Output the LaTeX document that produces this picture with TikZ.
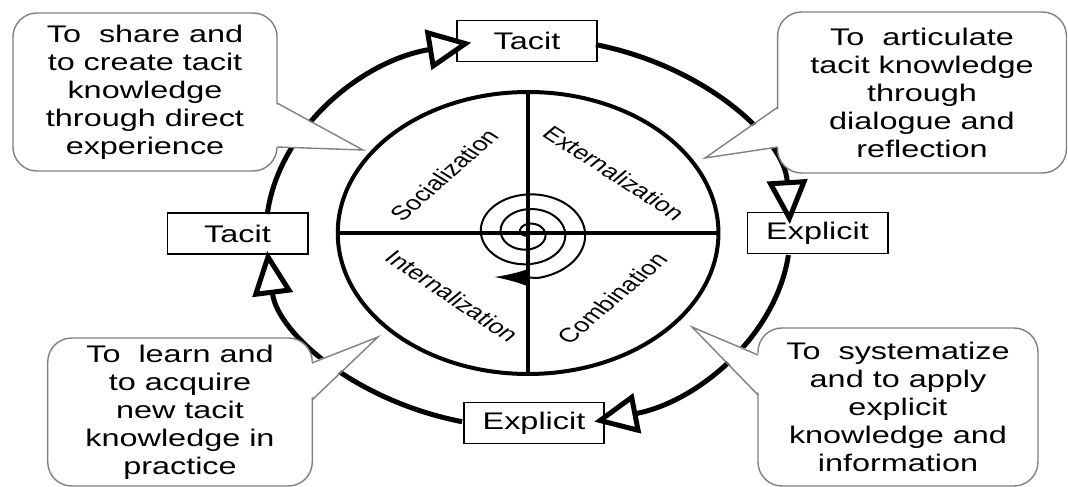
\documentclass[tikz,border=0pt]{standalone}
\usepackage{fontspec}
\setmainfont{Liberation Sans}
\usetikzlibrary{calc}
\usetikzlibrary{positioning}
\usetikzlibrary{arrows.meta}

\begin{document}
\begin{tikzpicture}[xscale=1.35, x=0.37037pt, y=-0.5pt, every node/.style={transform shape}, font=\fontsize{12}{14}\selectfont]
    \tikzstyle{kbox}=[draw=black, line width=0.8pt, fill=white, minimum width=52pt, minimum height=20.5pt, inner sep=0pt]
    \tikzstyle{note}=[draw=gray, line width=0.7pt, fill=white, rounded corners=12pt, align=center, inner sep=0pt]
    \tikzstyle{tail}=[draw=gray, line width=0.7pt]
    \tikzstyle{phase}=[font=\fontsize{10}{12}\selectfont]
    \tikzstyle{ring}=[line width=2.5pt, -{Triangle[length=22pt, width=20pt, fill=white]}]

    \useasboundingbox (0,0) rectangle (1068,487);
    \coordinate (hub) at (528,233);
    \coordinate (spin) at (494,277);

    \node[circle, draw, line width=2pt, minimum size=141pt, inner sep=0pt, outer sep=0pt] (wheel) at (hub) {};
    \draw[line width=1.8pt] (wheel.west) -- (wheel.east);
    \draw[line width=1.8pt] (wheel.north) -- (wheel.south);
    \draw[line width=1pt, -{Latex[length=16pt, width=8pt]}] plot[domain=49:1160, samples=300, smooth, variable=\t] ({528+1.35*(0.041*\t-2)*cos(\t)}, {233+(0.041*\t-2)*sin(\t)}) -- (spin);

    \node[phase, rotate=50] (soc) at (444,175) {Socialization};
    \node[phase, rotate=-41] (ext) at (614,173) {Externalization};
    \node[phase, rotate=-42] (int) at (452,296) {Internalization};
    \node[phase, rotate=49] (com) at (612,298) {Combination};

    \node[kbox] (tacitT) at (527,41) {Tacit};
    \node[kbox] (explR) at (817.5,233) {Explicit};
    \node[kbox] (explB) at (534,423) {Explicit};
    \node[kbox] (tacitL) at (237.5,233.5) {Tacit};

    \draw[ring] ($(hub)+(185.6:262 and 195)$) arc[start angle=185.6, end angle=257.5, x radius=262, y radius=195];
    \draw[ring] ($(hub)+(-75:262 and 195)$) arc[start angle=-75, end angle=-2.6, x radius=262, y radius=195];
    \draw[ring] ($(hub)+(6.5:262 and 195)$) arc[start angle=6.5, end angle=75.4, x radius=262, y radius=195];
    \draw[ring] ($(hub)+(104.6:262 and 195)$) arc[start angle=104.6, end angle=174.7, x radius=262, y radius=195];

    \node[note, minimum width=97.8pt, minimum height=79pt] (share) at (145,92) {To\ \ share and\\to create tacit\\knowledge\\through direct\\experience};
    \node[note, minimum width=107pt, minimum height=80.5pt] (articulate) at (922,92.5) {To\ \ articulate\\tacit knowledge\\through\\dialogue and\\reflection};
    \node[note, minimum width=98pt, minimum height=74pt] (learn) at (180,412) {To\ \ learn and\\to acquire\\new tacit\\knowledge in\\practice};
    \node[note, minimum width=103.7pt, minimum height=79pt] (apply) at (898,407) {To\ \ systematize\\and to apply\\explicit\\knowledge and\\information};

    \fill[white] (274,103) -- (363,150) -- (274,147) -- cycle;
    \draw[tail] (277,103) -- (363,150) -- (277,147);
    \fill[white] (781,107) -- (705,158) -- (781,147) -- cycle;
    \draw[tail] (778,107) -- (705,158) -- (778,147);
    \fill[white] (309,363) -- (378,337) -- (309,400) -- cycle;
    \draw[tail] (312,363) -- (378,337) -- (312,400);
    \fill[white] (761,355) -- (692,327) -- (761,395) -- cycle;
    \draw[tail] (758,355) -- (692,327) -- (758,395);
\end{tikzpicture}
\end{document}
